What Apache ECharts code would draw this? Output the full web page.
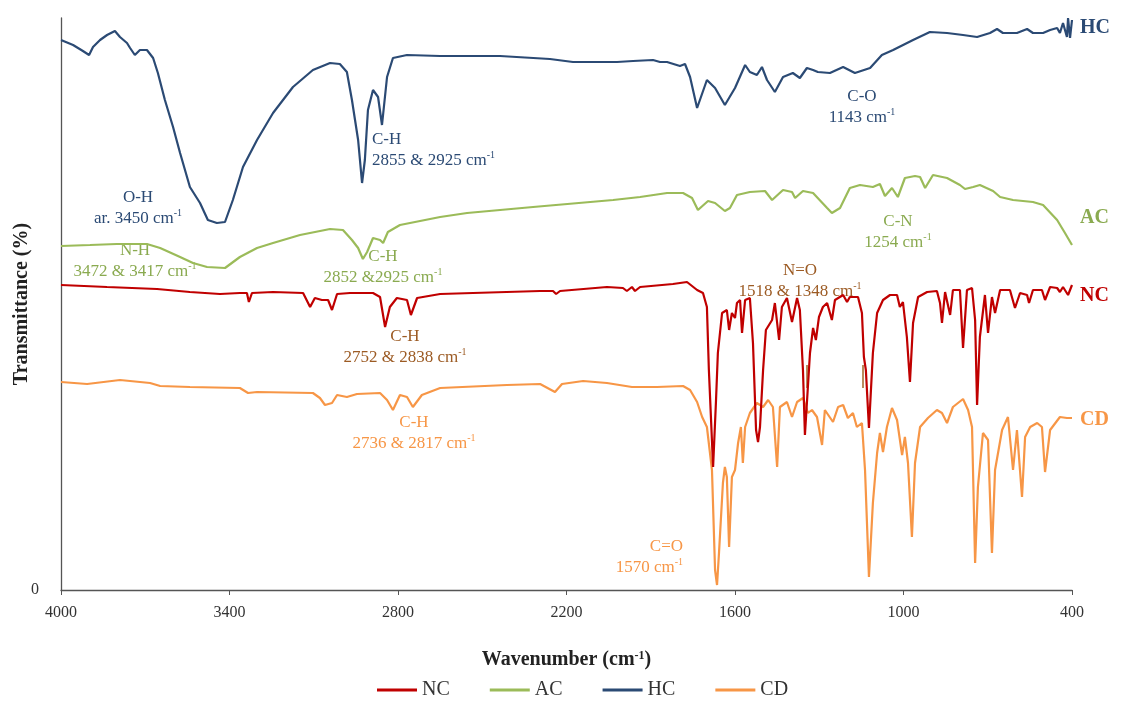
<!DOCTYPE html>
<html>
<head>
<meta charset="utf-8">
<title>FTIR spectra</title>
<script src="https://cdn.jsdelivr.net/npm/echarts@6/dist/echarts.min.js"></script>
<style>
  html, body { margin: 0; padding: 0; background: #fff; }
  #chart { width: 1121px; height: 711px; }
</style>
</head>
<body>
<div id="chart"></div>
<script>
// wavenumber (cm-1), transmittance (offset, arbitrary units)
const wavenumberTicks = [4000, 3400, 2800, 2200, 1600, 1000, 400];
const legendOrder = ['NC', 'AC', 'HC', 'CD'];

const hcSpectrum = [
  [4000, 55.0], [3957, 54.5], [3922, 53.9], [3900, 53.5], [3886, 54.3], [3861, 55.0], [3836, 55.5],
  [3808, 55.9], [3790, 55.3], [3765, 54.7], [3754, 54.2], [3737, 53.5], [3719, 54.0], [3694, 54.0],
  [3672, 53.2], [3655, 51.7], [3630, 49.0], [3601, 46.3], [3576, 43.7], [3541, 40.3], [3505, 38.7],
  [3477, 37.0], [3445, 36.7], [3416, 36.8], [3388, 39.0], [3352, 42.3], [3302, 45.0], [3245, 47.7],
  [3174, 50.3], [3103, 52.0], [3042, 52.7], [3007, 52.6], [2982, 51.8], [2964, 49.0], [2953, 47.0],
  [2942, 45.0], [2928, 40.7], [2918, 43.0], [2907, 48.0], [2889, 50.0], [2871, 49.3], [2857, 46.5],
  [2839, 51.3], [2818, 53.2], [2768, 53.5], [2650, 53.4], [2437, 53.4], [2259, 53.1], [2177, 52.8],
  [2020, 52.8], [1963, 52.9], [1892, 53.0], [1867, 52.8], [1842, 52.8], [1796, 52.4], [1778, 52.6],
  [1760, 51.3], [1735, 48.2], [1700, 51.0], [1671, 50.2], [1636, 48.5], [1600, 50.2], [1564, 52.5],
  [1547, 51.8], [1522, 51.5], [1504, 52.3], [1486, 51.0], [1458, 49.8], [1429, 51.3], [1394, 51.7],
  [1369, 51.2], [1344, 52.2], [1322, 52.0], [1305, 51.8], [1262, 51.7], [1215, 52.3], [1173, 51.7],
  [1119, 52.2], [1077, 53.5], [1037, 54.0], [966, 55.0], [906, 55.8], [845, 55.7], [788, 55.5],
  [738, 55.3], [692, 55.7], [667, 56.1], [646, 55.7], [596, 55.7], [560, 56.1], [539, 55.7],
  [503, 55.7], [478, 56.0], [453, 56.2], [443, 55.7], [432, 56.7], [418, 55.3], [414, 57.2],
  [407, 55.2], [400, 57.0]
];

const acSpectrum = [
  [4000, 34.4], [3897, 34.5], [3801, 34.6], [3694, 34.6], [3647, 34.2], [3576, 33.3], [3530, 32.7],
  [3480, 32.3], [3416, 32.2], [3363, 33.3], [3302, 34.2], [3245, 34.7], [3149, 35.5], [3042, 36.1],
  [2996, 36.0], [2964, 35.0], [2942, 34.2], [2925, 33.1], [2910, 33.8], [2889, 35.2], [2864, 35.0],
  [2853, 34.7], [2836, 35.8], [2793, 36.5], [2650, 37.3], [2554, 37.7], [2319, 38.3], [2034, 39.0],
  [1938, 39.3], [1842, 39.7], [1785, 39.7], [1753, 39.2], [1732, 38.0], [1696, 38.9], [1671, 38.7],
  [1636, 37.9], [1618, 38.2], [1593, 39.5], [1547, 39.8], [1493, 39.9], [1468, 39.0], [1429, 40.0],
  [1397, 39.8], [1386, 39.2], [1358, 39.9], [1322, 39.7], [1272, 38.2], [1255, 37.7], [1226, 38.2],
  [1191, 40.2], [1155, 40.5], [1109, 40.3], [1084, 40.6], [1066, 39.4], [1041, 40.2], [1020, 39.3],
  [995, 41.2], [959, 41.4], [941, 41.3], [923, 40.2], [895, 41.5], [845, 41.2], [799, 40.5],
  [781, 40.1], [752, 40.3], [728, 40.5], [681, 39.9], [656, 39.3], [610, 39.0], [539, 38.8],
  [503, 38.5], [453, 37.0], [425, 35.7], [400, 34.5]
];

const ncSpectrum = [
  [4000, 30.5], [3836, 30.3], [3658, 30.1], [3541, 29.8], [3434, 29.6], [3363, 29.7], [3338, 29.7],
  [3331, 28.8], [3320, 29.7], [3245, 29.8], [3138, 29.7], [3113, 28.3], [3096, 29.2], [3071, 29.0],
  [3049, 29.0], [3035, 28.0], [3017, 29.6], [2971, 29.7], [2889, 29.7], [2864, 29.3], [2846, 26.3],
  [2829, 28.3], [2804, 29.2], [2768, 29.0], [2754, 27.5], [2732, 29.2], [2650, 29.6], [2533, 29.7],
  [2294, 29.9], [2248, 29.9], [2237, 29.6], [2223, 29.9], [2056, 30.3], [1999, 30.2], [1985, 29.9],
  [1967, 30.3], [1956, 29.9], [1938, 30.3], [1821, 30.6], [1771, 30.8], [1735, 30.0], [1714, 29.7],
  [1700, 28.3], [1693, 22.0], [1678, 12.3], [1668, 18.7], [1661, 23.7], [1646, 27.7], [1629, 28.0],
  [1621, 26.0], [1611, 27.7], [1600, 27.2], [1593, 28.7], [1582, 29.0], [1575, 25.7], [1564, 29.0],
  [1547, 29.2], [1536, 24.7], [1525, 16.0], [1518, 14.8], [1511, 16.3], [1500, 22.0], [1490, 26.0],
  [1468, 27.0], [1458, 28.7], [1443, 25.0], [1433, 28.3], [1415, 29.2], [1397, 26.8], [1379, 29.2],
  [1369, 28.0], [1358, 22.0], [1351, 15.5], [1344, 18.7], [1333, 23.7], [1322, 26.2], [1312, 25.0],
  [1301, 27.3], [1287, 28.3], [1272, 28.7], [1255, 27.0], [1244, 29.0], [1215, 29.5], [1201, 28.8],
  [1191, 29.3], [1162, 29.3], [1148, 27.7], [1141, 23.3], [1134, 22.0], [1123, 16.2], [1109, 23.7],
  [1094, 27.7], [1073, 29.0], [1048, 29.5], [1023, 29.5], [1013, 28.3], [1002, 28.8], [988, 25.3],
  [977, 20.8], [966, 26.7], [948, 29.3], [916, 29.8], [881, 29.9], [870, 28.7], [863, 26.7],
  [852, 29.8], [834, 27.5], [824, 30.0], [799, 30.0], [788, 24.2], [774, 30.0], [756, 30.2],
  [745, 27.0], [738, 18.5], [728, 25.3], [710, 29.5], [699, 25.7], [685, 29.3], [674, 27.7],
  [656, 30.0], [621, 30.0], [603, 28.2], [585, 29.7], [560, 29.5], [553, 28.7], [539, 30.0],
  [507, 30.0], [496, 29.0], [478, 30.3], [453, 30.2], [443, 29.8], [432, 30.3], [414, 29.5],
  [400, 30.5]
];

const cdSpectrum = [
  [4000, 20.8], [3907, 20.6], [3790, 21.0], [3683, 20.7], [3647, 20.4], [3541, 20.3], [3363, 20.2],
  [3334, 19.7], [3302, 19.8], [3103, 19.7], [3078, 19.2], [3060, 18.5], [3035, 18.7], [3017, 19.5],
  [2982, 19.3], [2946, 19.6], [2864, 19.7], [2839, 19.0], [2818, 18.0], [2793, 19.5], [2768, 19.3],
  [2747, 18.3], [2715, 19.5], [2650, 20.2], [2412, 20.5], [2294, 20.6], [2241, 19.8], [2216, 20.6],
  [2141, 20.9], [2056, 20.7], [1967, 20.3], [1878, 20.3], [1785, 20.4], [1760, 20.0], [1735, 18.8],
  [1717, 17.3], [1700, 16.3], [1682, 12.0], [1671, 2.0], [1664, 0.5], [1657, 3.7], [1643, 10.7],
  [1636, 12.3], [1629, 11.3], [1621, 4.3], [1611, 11.3], [1600, 12.0], [1589, 14.7], [1579, 16.3],
  [1572, 12.7], [1564, 16.3], [1547, 17.7], [1522, 18.7], [1500, 18.3], [1482, 19.0], [1465, 18.3],
  [1450, 12.3], [1440, 18.3], [1415, 18.8], [1397, 17.3], [1379, 18.8], [1358, 19.2], [1340, 17.7],
  [1326, 18.0], [1308, 17.3], [1290, 14.5], [1280, 18.0], [1251, 16.8], [1233, 18.3], [1215, 18.5],
  [1198, 17.2], [1180, 17.7], [1166, 16.3], [1148, 16.7], [1137, 12.0], [1123, 1.3], [1109, 8.7],
  [1094, 13.7], [1084, 15.7], [1073, 13.8], [1059, 16.3], [1041, 18.2], [1023, 17.0], [1005, 13.5],
  [995, 15.3], [984, 12.7], [970, 5.3], [959, 12.7], [941, 16.3], [913, 17.2], [881, 18.0],
  [863, 17.7], [845, 16.7], [824, 18.3], [788, 19.1], [770, 18.0], [756, 16.3], [745, 2.7],
  [735, 10.3], [717, 15.7], [699, 15.0], [685, 3.7], [674, 12.0], [649, 16.0], [628, 17.3],
  [610, 12.0], [596, 16.0], [578, 9.3], [567, 15.3], [549, 16.3], [524, 16.7], [507, 16.3],
  [496, 11.8], [478, 16.0], [443, 17.3], [418, 17.2], [400, 17.2]
];

const colors = { NC: '#C00000', AC: '#9BBB59', HC: '#2B4A74', CD: '#F79646' };
const noteColors = { NC: '#9C5B24', AC: '#8AAA50', HC: '#2B4A74', CD: '#F79646' };
const serif = '"Liberation Serif", "Times New Roman", serif';

const chart = echarts.init(document.getElementById('chart'));

// annotation text, superscript via rich token {s|...}
function note(x, y, text, color, align) {
  return {
    type: 'text',
    x: x,
    y: y,
    style: {
      text: text,
      fill: color,
      fontFamily: serif,
      fontSize: 17,
      lineHeight: 21,
      align: align || 'center',
      verticalAlign: 'middle',
      rich: {
        s: { fontSize: 10, fontFamily: serif, fill: color, verticalAlign: 'top', lineHeight: 21 }
      }
    }
  };
}

function tag(y, text, color) {
  return {
    type: 'text',
    x: 1080,
    y: y,
    style: {
      text: text,
      fill: color,
      fontFamily: serif,
      fontSize: 20,
      fontWeight: 'bold',
      align: 'left',
      verticalAlign: 'middle'
    }
  };
}

function spectrum(name, data, z) {
  return {
    name: name,
    type: 'line',
    data: data,
    showSymbol: false,
    symbol: 'none',
    z: z,
    lineStyle: { width: 2.2, color: colors[name] },
    itemStyle: { color: colors[name] },
    emphasis: { disabled: true }
  };
}

const ncSeries = spectrum('NC', ncSpectrum, 5);
ncSeries.markLine = {
  silent: true,
  symbol: 'none',
  label: { show: false },
  lineStyle: { color: '#A0662A', width: 1.5, type: 'solid' },
  data: [
    [{ coord: [1345, 22.5] }, { coord: [1345, 20.2] }],
    [{ coord: [1144, 22.5] }, { coord: [1144, 20.2] }]
  ]
};

const option = {
  animation: false,
  backgroundColor: '#fff',
  textStyle: { fontFamily: serif },
  grid: { left: 61, right: 49, top: 18, bottom: 121, containLabel: false, outerBoundsMode: 'none' },
  legend: {
    data: legendOrder,
    bottom: 6,
    left: 372,
    icon: 'rect',
    itemWidth: 40,
    itemHeight: 3,
    itemGap: 40,
    textStyle: { fontFamily: serif, fontSize: 20, color: '#333' }
  },
  xAxis: {
    type: 'value',
    inverse: true,
    min: wavenumberTicks[wavenumberTicks.length - 1],
    max: wavenumberTicks[0],
    interval: 600,
    name: '{a|Wavenumber (cm}{s|-1}{a|)}',
    nameLocation: 'middle',
    nameGap: 60,
    nameTextStyle: {
      rich: {
        a: { fontFamily: serif, fontSize: 20, fontWeight: 'bold', color: '#222' },
        s: { fontFamily: serif, fontSize: 12, fontWeight: 'bold', color: '#222', verticalAlign: 'top' }
      }
    },
    axisLine: { lineStyle: { color: '#555', width: 1.3 } },
    axisTick: { show: true, length: 5, lineStyle: { color: '#555' } },
    axisLabel: {
      fontFamily: serif, fontSize: 16, color: '#333', margin: 15,
      formatter: function (v) { return String(v); }
    },
    splitLine: { show: false }
  },
  yAxis: {
    type: 'value',
    min: 0,
    max: 57.2,
    interval: 57.2,
    name: 'Transmittance (%)',
    nameLocation: 'middle',
    nameGap: 29,
    nameMoveOverlap: false,
    nameTextStyle: { fontFamily: serif, fontSize: 20, fontWeight: 'bold', color: '#222' },
    axisLine: { show: true, lineStyle: { color: '#555', width: 1.3 } },
    axisTick: { show: false },
    axisLabel: {
      fontFamily: serif, fontSize: 16, color: '#333', margin: 22,
      formatter: function (v) { return v === 0 ? '0' : ''; }
    },
    splitLine: { show: false }
  },
  series: [
    spectrum('CD', cdSpectrum, 2),
    spectrum('HC', hcSpectrum, 3),
    spectrum('AC', acSpectrum, 4),
    ncSeries
  ],
  graphic: [
    tag(28, 'HC', colors.HC),
    tag(218, 'AC', '#8AAA50'),
    tag(296, 'NC', colors.NC),
    tag(420, 'CD', colors.CD),
    note(138, 208, 'O-H\nar. 3450 cm{s|-1}', noteColors.HC, 'center'),
    note(372, 150, 'C-H\n2855 & 2925 cm{s|-1}', noteColors.HC, 'left'),
    note(862, 107, 'C-O\n1143 cm{s|-1}', noteColors.HC, 'center'),
    note(135, 261, 'N-H\n3472 & 3417 cm{s|-1}', noteColors.AC, 'center'),
    note(383, 267, 'C-H\n2852 &2925 cm{s|-1}', noteColors.AC, 'center'),
    note(898, 232, 'C-N\n1254 cm{s|-1}', noteColors.AC, 'center'),
    note(800, 281, 'N=O\n1518 & 1348 cm{s|-1}', noteColors.NC, 'center'),
    note(405, 347, 'C-H\n2752 & 2838 cm{s|-1}', noteColors.NC, 'center'),
    note(414, 433, 'C-H\n2736 & 2817 cm{s|-1}', noteColors.CD, 'center'),
    note(683, 557, 'C=O\n1570 cm{s|-1}', noteColors.CD, 'right')
  ]
};

chart.setOption(option);
window.addEventListener('resize', function () { chart.resize(); });
</script>
</body>
</html>
